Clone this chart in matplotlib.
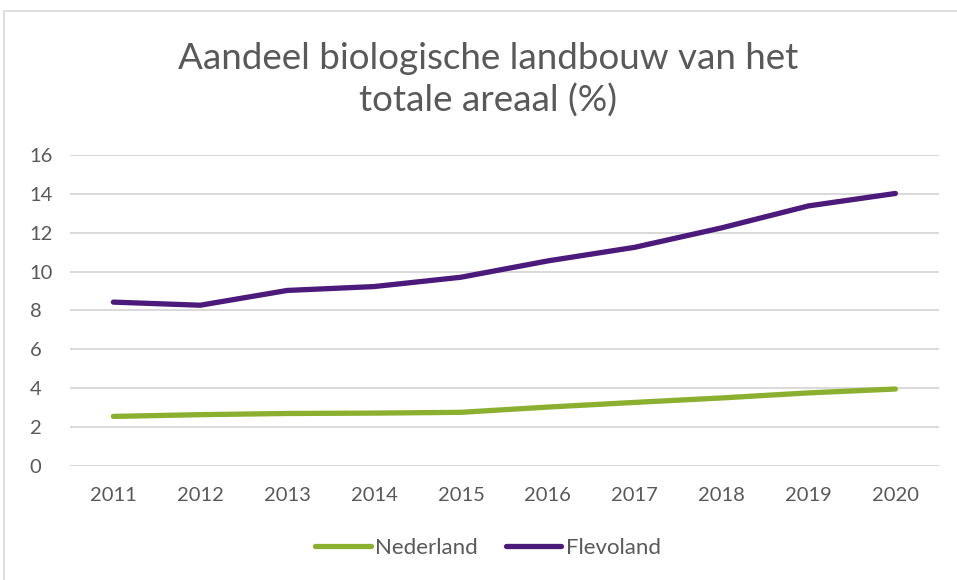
import matplotlib.pyplot as plt
from matplotlib.patches import Rectangle

## Data
years = ['2011', '2012', '2013', '2014', '2015', '2016', '2017', '2018', '2019', '2020']
nederland = [2.55, 2.64, 2.70, 2.72, 2.76, 3.03, 3.27, 3.50, 3.76, 3.96]
flevoland = [8.43, 8.27, 9.03, 9.23, 9.71, 10.55, 11.25, 12.25, 13.38, 14.02]
yticks = [0, 2, 4, 6, 8, 10, 12, 14, 16]

plt.rcParams['font.family'] = ['Lato', 'DejaVu Sans']
text_color = '#595959'
grid_color = '#D9D9D9'

fig = plt.figure(figsize=(9.57, 5.8), dpi=100)
ax = fig.add_axes([0.0731, 0.1966, 0.9079, 0.5362])

x = list(range(len(years)))
ax.plot(x, nederland, color='#8BAF2F', linewidth=3.8, solid_capstyle='round',
        solid_joinstyle='round', label='Nederland')
ax.plot(x, flevoland, color='#4C1A7B', linewidth=3.8, solid_capstyle='round',
        solid_joinstyle='round', label='Flevoland')

ax.set_xlim(-0.5, len(years) - 0.5)
ax.set_ylim(0, 16)
ax.set_xticks(x)
ax.set_xticklabels(years)
ax.set_yticks(yticks)
ax.tick_params(length=0, labelsize=14.5, colors=text_color, pad=15)
ax.tick_params(axis='y', pad=29)
for lab in ax.get_yticklabels():
    lab.set_horizontalalignment('left')

ax.grid(axis='y', color=grid_color, linewidth=1.4)
ax.set_axisbelow(True)
for s in ax.spines.values():
    s.set_visible(False)

## Title
fig.text(0.51, 0.863, 'Aandeel biologische landbouw van het\ntotale areaal (%)',
         ha='center', va='center', fontsize=26.5, color=text_color, linespacing=1.3)

## Legend
fig.legend(loc='center', bbox_to_anchor=(0.51, 0.055), ncol=2, frameon=False,
           fontsize=16, labelcolor=text_color, handlelength=2.5,
           handletextpad=0.2, columnspacing=1.25)

## Chart border
fig.patches.append(Rectangle((4 / 957, -0.1), 1.1, 1.1 - 11 / 580,
                             transform=fig.transFigure, fill=False,
                             edgecolor=grid_color, linewidth=1.2))

plt.savefig('out.png', dpi=100)
